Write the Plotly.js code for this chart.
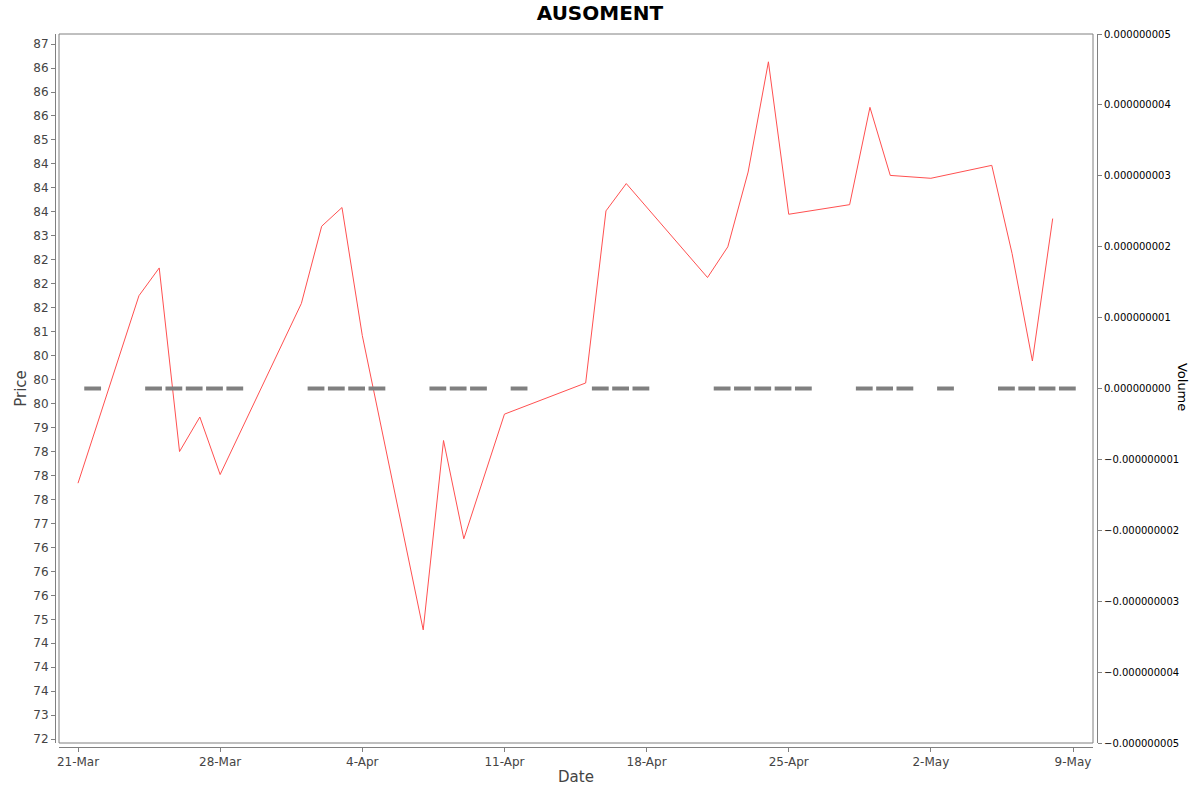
<!DOCTYPE html>
<html>
<head>
<meta charset="utf-8">
<script src="https://cdn.plot.ly/plotly-3.0.1.min.js"></script>
<style>
  html, body { margin: 0; padding: 0; background: #fff; }
  #chart { width: 1200px; height: 792px; }
</style>
</head>
<body>
<div id="chart"></div>
<script>
// Trading days and closing prices
var dates = [
  '2025-03-21', '2025-03-24', '2025-03-25', '2025-03-26', '2025-03-27', '2025-03-28',
  '2025-04-01', '2025-04-02', '2025-04-03', '2025-04-04',
  '2025-04-07', '2025-04-08', '2025-04-09', '2025-04-11',
  '2025-04-15', '2025-04-16', '2025-04-17',
  '2025-04-21', '2025-04-22', '2025-04-23', '2025-04-24', '2025-04-25',
  '2025-04-28', '2025-04-29', '2025-04-30', '2025-05-02',
  '2025-05-05', '2025-05-06', '2025-05-07', '2025-05-08'
];
var prices = [
  77.84, 81.75, 82.33, 78.50, 79.22, 78.02,
  81.59, 83.20, 83.59, 80.92,
  74.78, 78.73, 76.68, 79.28,
  79.93, 83.52, 84.09,
  82.13, 82.77, 84.33, 86.63, 83.45,
  83.65, 85.68, 84.26, 84.20,
  84.47, 82.63, 80.39, 83.36
];
// volume is zero on every day
var volumes = [
  0, 0, 0, 0, 0, 0,
  0, 0, 0, 0,
  0, 0, 0, 0,
  0, 0, 0,
  0, 0, 0, 0, 0,
  0, 0, 0, 0,
  0, 0, 0, 0
];

// price ticks every half unit, labels rounded as in the original
var priceTickVals = [72.5, 73, 73.5, 74, 74.5, 75, 75.5, 76, 76.5, 77, 77.5, 78, 78.5, 79, 79.5,
  80, 80.5, 81, 81.5, 82, 82.5, 83, 83.5, 84, 84.5, 85, 85.5, 86, 86.5, 87];
var priceTickText = ['72', '73', '74', '74', '74', '75', '76', '76', '76', '77', '78', '78', '78', '79', '80',
  '80', '80', '81', '82', '82', '82', '83', '84', '84', '84', '85', '86', '86', '86', '87'];

var axisGray = '#808080';
var labelGray = '#444444';
var W = 1042, H = 713;  // size of the area inside the margins

var priceTrace = {
  type: 'scatter',
  mode: 'lines',
  x: dates,
  y: prices,
  name: 'Price',
  line: { color: '#ff5050', width: 1 },
  xaxis: 'x',
  yaxis: 'y'
};

var volumeTrace = {
  type: 'scatter',
  mode: 'markers',
  x: dates,
  y: volumes,
  name: 'Volume',
  marker: {
    symbol: 'line-ew',
    size: 12,
    color: axisGray,
    line: { color: axisGray, width: 4 }
  },
  xaxis: 'x2',
  yaxis: 'y2'
};

var layout = {
  width: 1200,
  height: 792,
  margin: { l: 55, r: 103, t: 34, b: 45 },
  paper_bgcolor: '#ffffff',
  plot_bgcolor: '#ffffff',
  showlegend: false,
  font: { family: 'DejaVu Sans, sans-serif', color: labelGray },
  title: {
    text: '<b>AUSOMENT</b>',
    font: { family: 'DejaVu Sans, sans-serif', size: 20, color: '#000000' },
    x: 0.5,
    xref: 'container',
    xanchor: 'center',
    y: 0.983,
    yref: 'container',
    yanchor: 'middle'
  },
  xaxis: {
    type: 'date',
    domain: [4 / W, 1 - 4 / W],
    anchor: 'free',
    position: 0,
    range: ['2025-03-20 01:32', '2025-05-09 23:38'],
    tick0: '2025-03-21',
    dtick: 7 * 86400000,
    tickformat: '%-d-%b',
    ticks: 'outside',
    ticklen: 4,
    tickcolor: axisGray,
    showline: true,
    linecolor: axisGray,
    linewidth: 1,
    showgrid: false,
    zeroline: false,
    tickfont: { size: 12, color: labelGray },
    title: { text: 'Date', font: { size: 15, color: labelGray }, standoff: 3 }
  },
  xaxis2: {
    type: 'date',
    overlaying: 'x',
    domain: [4 / W, 1 - 4 / W],
    range: ['2025-03-19 08:14', '2025-05-09 06:20'],
    visible: false
  },
  yaxis: {
    domain: [4 / H, 1],
    anchor: 'free',
    position: 0,
    range: [72.42, 87.21],
    tickmode: 'array',
    tickvals: priceTickVals,
    ticktext: priceTickText,
    ticks: 'outside',
    ticklen: 4,
    tickcolor: axisGray,
    showline: true,
    linecolor: axisGray,
    linewidth: 1,
    showgrid: false,
    zeroline: false,
    tickfont: { size: 12, color: labelGray },
    title: { text: 'Price', font: { size: 15, color: labelGray }, standoff: 2 }
  },
  yaxis2: {
    overlaying: 'y',
    side: 'right',
    anchor: 'free',
    position: 1,
    range: [-5e-9, 5e-9],
    dtick: 1e-9,
    tick0: 0,
    tickformat: '.9f',
    ticks: 'outside',
    ticklen: 4,
    tickcolor: axisGray,
    showline: true,
    linecolor: axisGray,
    linewidth: 1,
    showgrid: false,
    zeroline: false,
    tickfont: { size: 10, color: '#000000' }
  },
  shapes: [{
    type: 'rect',
    xref: 'x domain',
    yref: 'y domain',
    x0: 0, x1: 1, y0: 0, y1: 1,
    line: { color: axisGray, width: 1 },
    layer: 'below'
  }],
  annotations: [{
    text: 'Volume',
    textangle: 90,
    xref: 'paper',
    yref: 'paper',
    x: 1,
    xanchor: 'center',
    xshift: 85,
    y: 0.505,
    yanchor: 'middle',
    showarrow: false,
    font: { size: 13, color: '#000000' }
  }]
};

Plotly.newPlot('chart', [volumeTrace, priceTrace], layout, { displayModeBar: false, staticPlot: true });
</script>
</body>
</html>
